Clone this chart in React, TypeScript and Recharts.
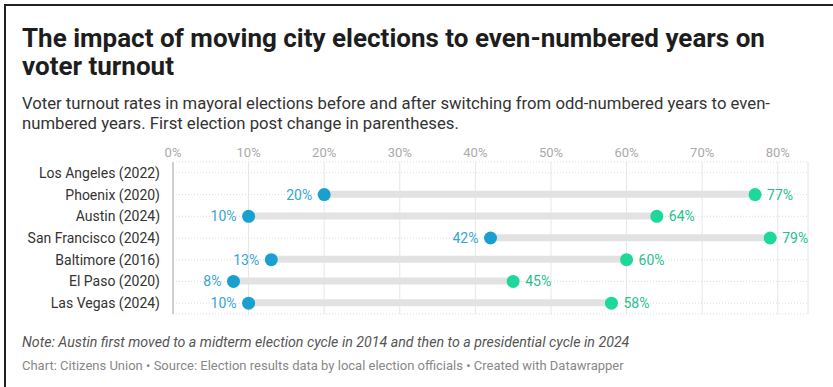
import React from 'react'
import {
  ComposedChart,
  Bar,
  Line,
  XAxis,
  YAxis,
  CartesianGrid,
  ReferenceLine,
  LabelList,
} from 'recharts'

const cities = [
  'Los Angeles (2022)',
  'Phoenix (2020)',
  'Austin (2024)',
  'San Francisco (2024)',
  'Baltimore (2016)',
  'El Paso (2020)',
  'Las Vegas (2024)',
]
const beforeTurnout: (number | null)[] = [null, 20, 10, 42, 13, 8, 10]
const afterTurnout: (number | null)[] = [null, 77, 64, 79, 60, 45, 58]
const xTicks = [0, 10, 20, 30, 40, 50, 60, 70, 80]

const BLUE = '#19a0cf'
const GREEN = '#1cd89b'
const BLUE_TEXT = '#35a5d2'
const GREEN_TEXT = '#26bf8c'
const FONT = 'Roboto, "Noto Sans", sans-serif'

const chartData = cities.map((name, i) => ({
  name,
  before: beforeTurnout[i],
  after: afterTurnout[i],
  range:
    beforeTurnout[i] != null && afterTurnout[i] != null
      ? [beforeTurnout[i], afterTurnout[i]]
      : null,
}))

function makeDot(color: string) {
  return (props: any) => {
    const { cx, cy, value, index } = props
    if (value == null || cx == null || cy == null) return <g key={`d-${index}`} />
    return <circle key={`d-${index}`} cx={cx} cy={cy} r={6.5} fill={color} />
  }
}

function makeLabel(color: string, side: 'left' | 'right') {
  return (props: any) => {
    const { x, y, value } = props
    if (value == null || x == null) return null
    return (
      <text
        x={side === 'left' ? x - 12 : x + 12}
        y={y}
        dy={5}
        textAnchor={side === 'left' ? 'end' : 'start'}
        fill={color}
        fontSize={14}
        fontFamily={FONT}
      >
        {value}%
      </text>
    )
  }
}

function CityTick(props: any) {
  const { x, y, payload } = props
  return (
    <text x={x - 7} y={y} dy={5} textAnchor="end" fill="#333" fontSize={14} fontFamily={FONT}>
      {payload.value}
    </text>
  )
}

function PctTick(props: any) {
  const { x, payload } = props
  return (
    <text x={x} y={17} dy={5} textAnchor="middle" fill="#aaa" fontSize={13} fontFamily={FONT}>
      {payload.value}%
    </text>
  )
}

export default function App() {
  return (
    <div
      style={{
        position: 'absolute',
        left: 0,
        top: 0,
        width: 833,
        height: 387,
        background: '#fff',
        fontFamily: FONT,
        overflow: 'hidden',
      }}
    >
      <div
        style={{
          position: 'absolute',
          left: 4,
          top: 4,
          width: 840,
          height: 400,
          borderTop: '2px solid #222',
          borderLeft: '2px solid #222',
        }}
      />
      <div
        style={{
          position: 'absolute',
          left: 22,
          top: 24,
          width: 800,
          fontSize: 26,
          fontWeight: 700,
          lineHeight: '28px',
          color: '#1d1d1d',
        }}
      >
        The impact of moving city elections to even-numbered years on voter turnout
      </div>
      <div
        style={{
          position: 'absolute',
          left: 22,
          top: 94,
          width: 800,
          fontSize: 16.7,
          lineHeight: '20px',
          color: '#333',
        }}
      >
        Voter turnout rates in mayoral elections before and after switching from odd-numbered years to even-numbered years. First election post change in parentheses.
      </div>
      <div style={{ position: 'absolute', left: 0, top: 135 }}>
        <ComposedChart
          width={833}
          height={185}
          data={chartData}
          layout="vertical"
          margin={{ top: 0, right: 25, left: 0, bottom: 6 }}
        >
          <CartesianGrid horizontal={false} stroke="#e6e6e6" />
          <CartesianGrid vertical={false} stroke="#dcdcdc" strokeDasharray="1 2" />
          <XAxis
            type="number"
            orientation="top"
            domain={[0, 84]}
            ticks={xTicks}
            height={27}
            axisLine={false}
            tickLine={false}
            tick={<PctTick />}
            interval={0}
          />
          <YAxis
            type="category"
            dataKey="name"
            width={173}
            axisLine={false}
            tickLine={false}
            tickMargin={0}
            tick={<CityTick />}
            interval={0}
          />
          <ReferenceLine x={0} stroke="#cfcfcf" strokeWidth={2} />
          <Bar dataKey="range" barSize={7} fill="#e2e2e2" isAnimationActive={false} />
          <Line
            dataKey="before"
            stroke="none"
            dot={makeDot(BLUE)}
            activeDot={false}
            isAnimationActive={false}
          >
            <LabelList dataKey="before" content={makeLabel(BLUE_TEXT, 'left')} />
          </Line>
          <Line
            dataKey="after"
            stroke="none"
            dot={makeDot(GREEN)}
            activeDot={false}
            isAnimationActive={false}
          >
            <LabelList dataKey="after" content={makeLabel(GREEN_TEXT, 'right')} />
          </Line>
        </ComposedChart>
      </div>
      <div
        style={{
          position: 'absolute',
          left: 22,
          top: 334,
          fontSize: 14.2,
          fontStyle: 'italic',
          color: '#555',
        }}
      >
        Note: Austin first moved to a midterm election cycle in 2014 and then to a presidential cycle in 2024
      </div>
      <div
        style={{
          position: 'absolute',
          left: 22,
          top: 358,
          fontSize: 13,
          color: '#888',
        }}
      >
        Chart: Citizens Union • Source: Election results data by local election officials • Created with Datawrapper
      </div>
    </div>
  )
}
